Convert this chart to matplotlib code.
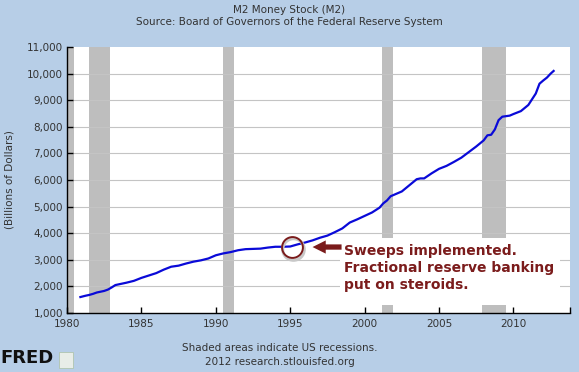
import matplotlib
matplotlib.use("Agg")
import matplotlib.pyplot as plt
from matplotlib.patches import Rectangle
from matplotlib.ticker import FuncFormatter

# ---- data (billions of dollars) ----
years = [1980.9, 1981.25, 1981.5, 1981.75, 1982.0, 1982.25, 1982.5, 1982.75,
         1983.0, 1983.25, 1983.5, 1983.75, 1984.0, 1984.5, 1985.0, 1985.5,
         1986.0, 1986.5, 1987.0, 1987.5, 1988.0, 1988.5, 1989.0, 1989.5,
         1990.0, 1990.5, 1991.0, 1991.5, 1992.0, 1992.5, 1993.0, 1993.5,
         1994.0, 1994.5, 1995.0, 1995.5, 1996.0, 1996.5, 1997.0, 1997.5,
         1998.0, 1998.5, 1999.0, 1999.5, 2000.0, 2000.5, 2001.0, 2001.25,
         2001.5, 2001.75, 2002.0, 2002.5, 2003.0, 2003.5, 2003.75, 2004.0,
         2004.5, 2005.0, 2005.5, 2006.0, 2006.5, 2007.0, 2007.5, 2008.0,
         2008.25, 2008.5, 2008.75, 2009.0, 2009.25, 2009.5, 2009.75, 2010.0,
         2010.5, 2011.0, 2011.5, 2011.75, 2012.0, 2012.25, 2012.5, 2012.7]
m2 = [1600, 1650, 1680, 1720, 1770, 1800, 1830, 1880,
      1960, 2050, 2080, 2110, 2140, 2210, 2320, 2410,
      2500, 2630, 2740, 2780, 2860, 2930, 2980, 3050,
      3170, 3240, 3290, 3360, 3400, 3410, 3420, 3460,
      3490, 3490, 3500, 3580, 3650, 3730, 3830, 3910,
      4040, 4180, 4400, 4520, 4650, 4780, 4960, 5120,
      5230, 5390, 5450, 5570, 5800, 6030, 6060, 6060,
      6250, 6420, 6530, 6680, 6840, 7050, 7260, 7490,
      7680, 7700, 7900, 8250, 8380, 8400, 8420, 8480,
      8590, 8820, 9250, 9620, 9740, 9850, 10000, 10100]

recession_start = [1980.0, 1981.5, 1990.5, 2001.2, 2007.9]
recession_end = [1980.5, 1982.9, 1991.2, 2001.9, 2009.5]

x_ticks = [1980, 1985, 1990, 1995, 2000, 2005, 2010]
y_ticks = [1000, 2000, 3000, 4000, 5000, 6000, 7000, 8000, 9000, 10000, 11000]

sweeps_year = 1995.1
sweeps_value = 3480

# ---- figure ----
bg = "#B7CEE7"
fig = plt.figure(figsize=(5.79, 3.72), dpi=100, facecolor=bg)
ax = fig.add_axes([67/579, 1 - 313/372, (570 - 67)/579, (313 - 47)/372])
ax.set_facecolor("white")

ax.set_xlim(1980, 2013.8)
ax.set_ylim(1000, 11000)

for s, e in zip(recession_start, recession_end):
    ax.axvspan(s, e, color="#BEBEBE", lw=0, zorder=1)

for yv in y_ticks[1:-1]:
    ax.axhline(yv, color="#C4C4C4", lw=0.8, zorder=1.5)

# white box behind annotation
ax.add_patch(Rectangle((1998.35, 1300), 14.8, 2520, facecolor="white",
                       edgecolor="none", zorder=2))

ax.plot(years, m2, color="#0A0AD8", lw=1.6, zorder=3)

# circle marker with shadow
ax.plot([sweeps_year + 0.12], [sweeps_value - 80], "o", ms=15.5, mfc="none",
        mec="#C8C8C8", mew=2.2, zorder=3.5)
ax.plot([sweeps_year], [sweeps_value], "o", ms=15, mfc="none",
        mec="#7A1B1B", mew=1.4, zorder=4)

ax.annotate("", xy=(1996.5, sweeps_value), xytext=(1998.45, sweeps_value),
            arrowprops=dict(arrowstyle="simple,head_length=0.95,head_width=0.95,tail_width=0.38",
                            color="#7A1B1B", lw=0, shrinkA=0, shrinkB=0),
            zorder=4)

ax.text(1998.6, 3600, "Sweeps implemented.\nFractional reserve banking\nput on steroids.",
        color="#7B1C1C", fontsize=10, fontweight="bold", family="DejaVu Sans",
        va="top", ha="left", linespacing=1.3, zorder=5,
        transform=ax.transData)

for side in ["top", "right"]:
    ax.spines[side].set_visible(False)
for side in ["left", "bottom"]:
    ax.spines[side].set_color("black")
    ax.spines[side].set_linewidth(1.0)

ax.set_xticks(x_ticks)
ax.set_xticks([2013.8], minor=True)
ax.set_yticks(y_ticks)
ax.yaxis.set_major_formatter(FuncFormatter(lambda v, p: f"{int(v):,}"))
ax.tick_params(axis="both", direction="in", length=4, width=1, color="black",
               labelsize=7.5, labelcolor="#333333")
ax.tick_params(axis="x", which="minor", direction="in", length=4, width=1)
ax.tick_params(axis="y", pad=3)
ax.tick_params(axis="x", pad=4)

ax.set_ylabel("(Billions of Dollars)", fontsize=7.5, color="#333333", labelpad=9)

fig.text(0.5, 1 - 10/372, "M2 Money Stock (M2)", ha="center", va="center",
         fontsize=7.5, color="#333333")
fig.text(0.5, 1 - 22/372, "Source: Board of Governors of the Federal Reserve System",
         ha="center", va="center", fontsize=7.5, color="#333333")
fig.text(280/579, 1 - 348/372, "Shaded areas indicate US recessions.",
         ha="center", va="center", fontsize=7.5, color="#333333")
fig.text(280/579, 1 - 362/372, "2012 research.stlouisfed.org",
         ha="center", va="center", fontsize=7.5, color="#333333")

fig.text(0.5/579, 1 - 358/372, "FRED", ha="left", va="center", fontsize=13,
         fontweight="heavy", color="#111111", family="DejaVu Sans")
fig.patches.append(Rectangle((59/579, 1 - 368/372), 14/579, 16/372,
                             transform=fig.transFigure, facecolor="#E8EDE8",
                             edgecolor="#AFC4AF", lw=0.6))

fig.savefig("out.png", dpi=100, facecolor=bg)
